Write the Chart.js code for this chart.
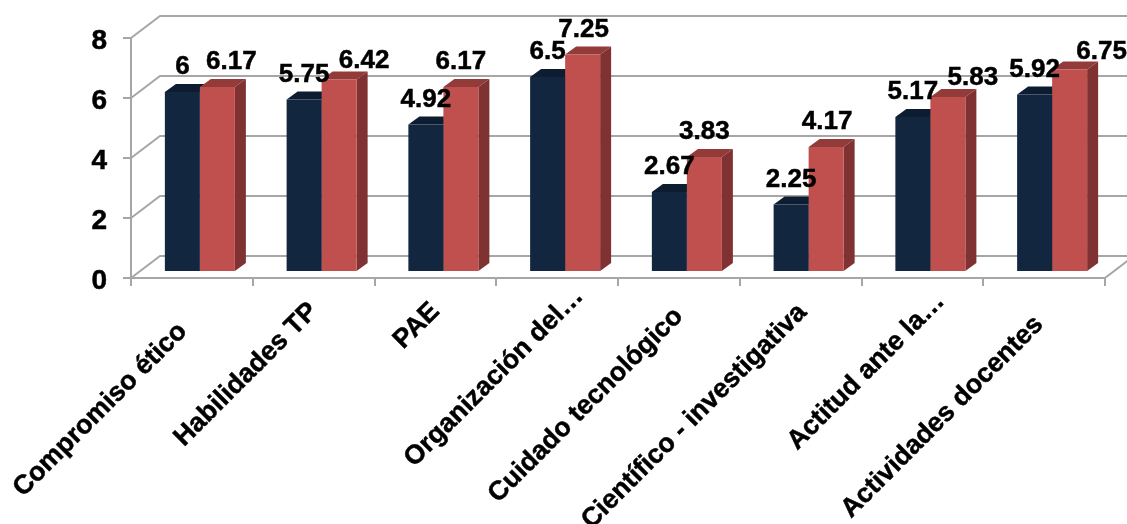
<!DOCTYPE html>
<html><head><meta charset="utf-8">
<style>html,body{margin:0;padding:0;background:#fff;overflow:hidden}canvas{display:block}</style>
<script src="https://cdn.jsdelivr.net/npm/chart.js@4"></script></head>
<body><canvas id="c" width="1127" height="524"></canvas>
<script>
const categories = ["Compromiso ético","Habilidades TP","PAE","Organización del…","Cuidado tecnológico","Científico - investigativa","Actitud ante la…","Actividades docentes"];
const seriesA = [6,5.75,4.92,6.5,2.67,2.25,5.17,5.92];
const seriesB = [6.17,6.42,6.17,7.25,3.83,4.17,5.83,6.75];
const yTicks = [0,2,4,6,8];
// hand-placed label nudges of the original (pixels from the default spot)
const nudgeB = [[14,0],[25,6],[0,0],[1,0],[0,0],[1,0],[25,6],[32,7]];
const nudgeX = [[-9,20],[0,0],[0,0],[22,-15],[0,5],[2,1],[18,-10],[-5,13]];
const nudgeY = [3,0];

const WALL = {dx:29, dy:-22};
const FRONT = {dx:8, dy:-6};
const DEPTH = {dx:11, dy:-8};
const GRID = '#a6a6a6';
const FONT = '"Liberation Sans", Arial, sans-serif';

const shade = {
  0:{top:'#0d1d31', side:'#0d1d31'},
  1:{top:'#933b39', side:'#7f3231'}
};

const scene = {
  id:'scene',
  afterUpdate(chart){
    const {x,y} = chart.scales;
    x.getLabelItems(chart.chartArea).forEach((it,i)=>{
      it.options.translation[0]+=nudgeX[i][0];
      it.options.translation[1]+=nudgeX[i][1];
    });
    y.getLabelItems(chart.chartArea).forEach(it=>{
      it.options.translation[1]+=nudgeY[0];
    });
  },
  beforeDatasetsDraw(chart){
    const {ctx, scales:{x,y}} = chart;
    const L = x.left, R = x.right;
    ctx.save();
    ctx.strokeStyle = GRID; ctx.lineWidth = 2;
    yTicks.forEach(v=>{
      const py = y.getPixelForValue(v);
      ctx.beginPath();
      ctx.moveTo(L,py);
      ctx.lineTo(L+WALL.dx,py+WALL.dy);
      ctx.lineTo(R+WALL.dx,py+WALL.dy);
      ctx.stroke();
    });
    const p0 = y.getPixelForValue(0);
    ctx.beginPath();
    ctx.moveTo(R,p0); ctx.lineTo(R+WALL.dx,p0+WALL.dy); ctx.stroke();
    ctx.translate(FRONT.dx,FRONT.dy);
    // depth faces of the bars, behind the front faces
    [0,1].forEach(i=>{
      chart.getDatasetMeta(i).data.forEach(b=>{
        const l=b.x-b.width/2, r=b.x+b.width/2, t=b.y, bo=b.base;
        ctx.fillStyle = shade[i].top;
        ctx.beginPath();
        ctx.moveTo(l,t); ctx.lineTo(l+DEPTH.dx,t+DEPTH.dy);
        ctx.lineTo(r+DEPTH.dx,t+DEPTH.dy); ctx.lineTo(r,t); ctx.closePath(); ctx.fill();
        ctx.fillStyle = shade[i].side;
        ctx.beginPath();
        ctx.moveTo(r,t); ctx.lineTo(r+DEPTH.dx,t+DEPTH.dy);
        ctx.lineTo(r+DEPTH.dx,bo+DEPTH.dy); ctx.lineTo(r,bo); ctx.closePath(); ctx.fill();
      });
    });
    // chart.js then draws the front faces in this shifted frame
  },
  afterDatasetsDraw(chart){
    const {ctx} = chart;
    ctx.restore();
    ctx.save();
    ctx.translate(FRONT.dx,FRONT.dy);
    ctx.fillStyle='#000';
    ctx.strokeStyle='#000';
    ctx.lineWidth=0.5;
    ctx.font='bold 26px '+FONT;
    ctx.textAlign='center'; ctx.textBaseline='middle';
    [[seriesA,null],[seriesB,nudgeB]].forEach(([vals,nudge],i)=>{
      chart.getDatasetMeta(i).data.forEach((b,j)=>{
        const n = nudge?nudge[j]:[0,0];
        ctx.fillText(String(vals[j]), b.x+n[0], b.y-25+n[1]);
        ctx.strokeText(String(vals[j]), b.x+n[0], b.y-25+n[1]);
      });
    });
    ctx.restore();
  }
};

new Chart(document.getElementById('c'),{
  type:'bar',
  data:{labels:categories,datasets:[
    {label:'A',data:seriesA,backgroundColor:'#12263f'},
    {label:'B',data:seriesB,backgroundColor:'#c0504d'}
  ]},
  plugins:[scene],
  options:{
    responsive:false,animation:false,devicePixelRatio:1,
    layout:{padding:{left:0,right:22,top:38,bottom:0}},
    plugins:{legend:{display:false},tooltip:{enabled:false}},
    datasets:{bar:{categoryPercentage:0.575,barPercentage:1,borderWidth:0}},
    scales:{
      x:{
        grid:{drawOnChartArea:false,color:GRID,lineWidth:2,tickLength:8,offset:true},
        border:{color:GRID,width:2},
        ticks:{maxRotation:45,minRotation:45,autoSkip:false,color:'#000',padding:10,textStrokeColor:'#000',textStrokeWidth:0.5,font:{family:FONT,size:26.6,weight:'bold'}},
        afterFit(s){s.height=246;}
      },
      y:{
        min:0,max:8,
        afterBuildTicks(s){s.ticks=yTicks.map(v=>({value:v}));},
        grid:{drawOnChartArea:false,color:GRID,lineWidth:2,tickLength:8},
        border:{color:GRID,width:2},
        ticks:{color:'#000',padding:16,textStrokeColor:'#000',textStrokeWidth:0.5,font:{family:FONT,size:28,weight:'bold'}},
        afterFit(s){s.width=131;}
      }
    }
  }
});
</script></body></html>
